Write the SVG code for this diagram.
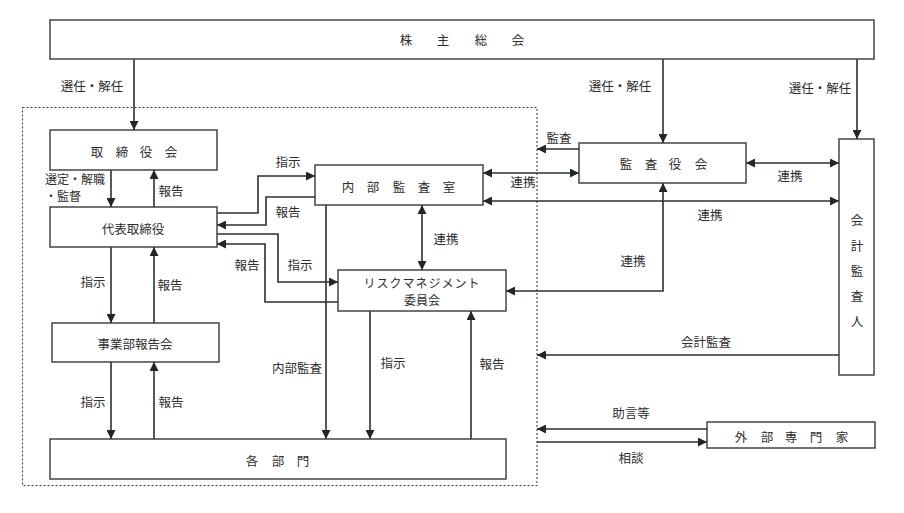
<svg xmlns="http://www.w3.org/2000/svg" width="904" height="513" viewBox="0 0 904 513">
<style>
text{font-family:"Noto Sans CJK JP","Noto Sans CJK SC",sans-serif;font-size:12.5px;fill:#2e2e2e;text-anchor:middle}
.sm{font-size:12px}
.box{fill:#fff;stroke:#3b3836;stroke-width:1.4}
.c{fill:none;stroke:#2b312f;stroke-width:1.6}
.dot{fill:none;stroke:#333;stroke-width:1;stroke-dasharray:2 2}
</style>
<defs>
<marker id="ah" viewBox="0 0 10 10" refX="10" refY="5" markerWidth="9" markerHeight="9" markerUnits="userSpaceOnUse" orient="auto-start-reverse">
<path d="M0,0 L10,5 L0,10 Z" fill="#1f2826"/>
</marker>
</defs>
<rect width="904" height="513" fill="#fff"/>
<rect class="dot" x="22.5" y="107.5" width="514.5" height="378"/>

<g id="connectors">
<line class="c" x1="134" y1="59" x2="134" y2="130" marker-end="url(#ah)"/>
<line class="c" x1="663" y1="59" x2="663" y2="143" marker-end="url(#ah)"/>
<line class="c" x1="857" y1="59" x2="857" y2="139" marker-end="url(#ah)"/>
<line class="c" x1="111" y1="170" x2="111" y2="207" marker-end="url(#ah)"/>
<line class="c" x1="154" y1="207" x2="154" y2="170" marker-end="url(#ah)"/>
<polyline class="c" points="217,213 258,213 258,176 315,176" marker-end="url(#ah)"/>
<polyline class="c" points="315,197 266,197 266,225 217,225" marker-end="url(#ah)"/>
<polyline class="c" points="217,234 278,234 278,282 338,282" marker-end="url(#ah)"/>
<polyline class="c" points="338,302 265,302 265,244 217,244" marker-end="url(#ah)"/>
<line class="c" x1="326" y1="205" x2="326" y2="439" marker-end="url(#ah)"/>
<line class="c" x1="422" y1="205" x2="422" y2="270" marker-start="url(#ah)" marker-end="url(#ah)"/>
<line class="c" x1="370" y1="311" x2="370" y2="439" marker-end="url(#ah)"/>
<line class="c" x1="471" y1="439" x2="471" y2="311" marker-end="url(#ah)"/>
<line class="c" x1="111" y1="247" x2="111" y2="323" marker-end="url(#ah)"/>
<line class="c" x1="154" y1="323" x2="154" y2="247" marker-end="url(#ah)"/>
<line class="c" x1="111" y1="362" x2="111" y2="439" marker-end="url(#ah)"/>
<line class="c" x1="154" y1="439" x2="154" y2="362" marker-end="url(#ah)"/>
<line class="c" x1="579" y1="149" x2="537" y2="149" marker-end="url(#ah)"/>
<line class="c" x1="483" y1="173" x2="579" y2="173" marker-start="url(#ah)" marker-end="url(#ah)"/>
<line class="c" x1="746" y1="163" x2="839" y2="163" marker-start="url(#ah)" marker-end="url(#ah)"/>
<line class="c" x1="483" y1="201" x2="839" y2="201" marker-start="url(#ah)" marker-end="url(#ah)"/>
<polyline class="c" points="663,183 663,291 506,291" marker-start="url(#ah)" marker-end="url(#ah)"/>
<line class="c" x1="839" y1="355" x2="537" y2="355" marker-end="url(#ah)"/>
<line class="c" x1="707" y1="429" x2="537" y2="429" marker-end="url(#ah)"/>
<line class="c" x1="537" y1="442" x2="707" y2="442" marker-end="url(#ah)"/>

<text x="92" y="91">選任・解任</text>
<text x="620" y="91">選任・解任</text>
<text x="820" y="93">選任・解任</text>
<text class="sm" x="75" y="184">選定・解職</text>
<text class="sm" x="63" y="201">・監督</text>
<text x="171" y="196">報告</text>
<text x="288" y="167">指示</text>
<text x="288" y="217">報告</text>
<text x="300" y="270">指示</text>
<text x="247" y="270">報告</text>
<text x="297" y="373">内部監査</text>
<text x="446" y="244">連携</text>
<text x="393" y="368">指示</text>
<text x="492" y="369">報告</text>
<text x="93" y="287">指示</text>
<text x="170" y="290">報告</text>
<text x="93" y="407">指示</text>
<text x="171" y="407">報告</text>
<text x="559" y="143">監査</text>
<text x="523" y="187">連携</text>
<text x="790" y="181">連携</text>
<text x="710" y="220">連携</text>
<text x="633" y="266">連携</text>
<text x="706" y="347">会計監査</text>
<text x="631" y="418">助言等</text>
<text x="631" y="463">相談</text>
</g>

<g id="shareholders">
<rect class="box" x="50" y="20" width="824" height="39"/>
<text x="406 443 481 518" y="44.5">株主総会</text>
</g>
<g id="board">
<rect class="box" x="50" y="130" width="167" height="40"/>
<text x="97 122 146 171" y="156.5">取締役会</text>
</g>
<g id="ceo">
<rect class="box" x="50" y="207" width="167" height="40"/>
<text x="133" y="233.5">代表取締役</text>
</g>
<g id="internal-audit">
<rect class="box" x="315" y="165" width="168" height="40"/>
<text x="348 373 399 424 449" y="191.5">内部監査室</text>
</g>
<g id="auditors">
<rect class="box" x="579" y="143" width="167" height="40"/>
<text x="626 651 675 701" y="168.5">監査役会</text>
</g>
<g id="accounting-auditor">
<rect class="box" x="839" y="139" width="35" height="236"/>
<text x="857" y="224.5">会</text>
<text x="857" y="250.5">計</text>
<text x="857" y="275.5">監</text>
<text x="857" y="300.5">査</text>
<text x="857" y="325.5">人</text>
</g>
<g id="risk-committee">
<rect class="box" x="338" y="270" width="168" height="41"/>
<text class="sm" x="422" y="288" style="letter-spacing:1px">リスクマネジメント</text>
<text class="sm" x="422" y="305">委員会</text>
</g>
<g id="division-meeting">
<rect class="box" x="52" y="323" width="167" height="39"/>
<text x="135" y="348.5">事業部報告会</text>
</g>
<g id="departments">
<rect class="box" x="50" y="439" width="456" height="40"/>
<text x="252 278 303" y="465.5">各部門</text>
</g>
<g id="external-experts">
<rect class="box" x="707" y="422" width="168" height="26"/>
<text x="741 767 791 816 842" y="441.5">外部専門家</text>
</g>
</svg>
